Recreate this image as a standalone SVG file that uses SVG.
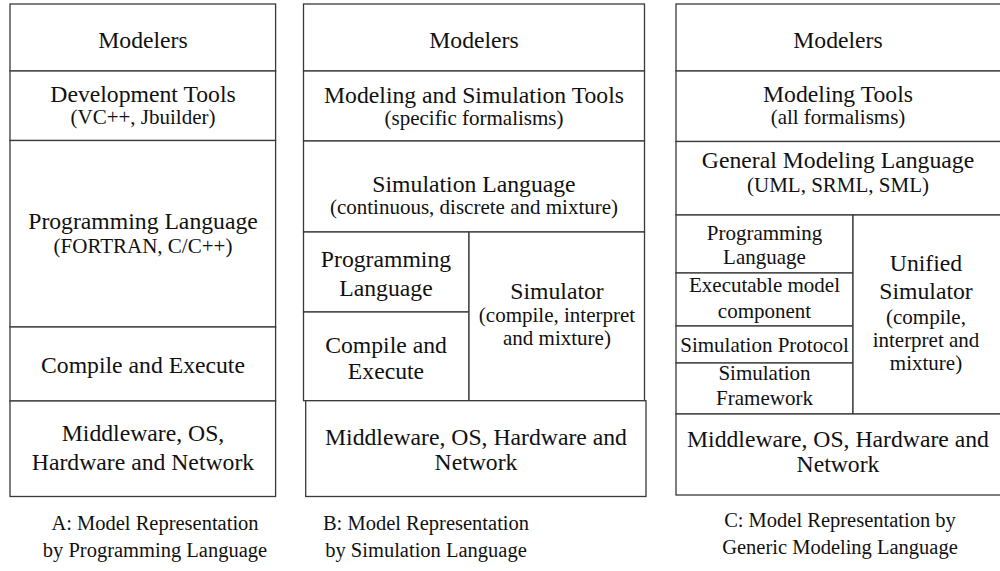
<svg xmlns="http://www.w3.org/2000/svg" width="1000" height="571" viewBox="0 0 1000 571">
  <style>
    rect.cell { fill: #ffffff; stroke: #3a3a3a; stroke-width: 1.3; }
    text { fill: #111111; text-anchor: middle; font-family: Liberation Serif, Times New Roman, Tinos, DejaVu Serif, serif; }
    .t { font-size: 23.7px; }
    .s { font-size: 21px; }
    .cap { font-size: 20.5px; }
  </style>
  <rect width="1000" height="571" fill="#ffffff"/>

  <!-- Stack A: programming language -->
  <g id="stackA">
    <g id="a-modelers"><rect class="cell" x="10" y="4" width="265.6" height="67"/><text class="t" x="143" y="48">Modelers</text></g>
    <g id="a-devtools"><rect class="cell" x="10" y="71" width="265.6" height="69.5"/><text class="t" x="143" y="101.5">Development Tools</text><text class="s" x="143" y="124">(VC++, Jbuilder)</text></g>
    <g id="a-proglang"><rect class="cell" x="10" y="140.5" width="265.6" height="186.5"/><text class="t" x="143" y="229">Programming Language</text><text class="s" x="143" y="253">(FORTRAN, C/C++)</text></g>
    <g id="a-compile"><rect class="cell" x="10" y="327" width="265.6" height="74"/><text class="t" x="143" y="372.5">Compile and Execute</text></g>
    <g id="a-platform"><rect class="cell" x="10" y="401" width="265.6" height="95.5"/><text class="t" x="143" y="441">Middleware, OS,</text><text class="t" x="143" y="470">Hardware and Network</text></g>
  </g>

  <!-- Stack B: simulation language -->
  <g id="stackB">
    <g id="b-modelers"><rect class="cell" x="303.5" y="4" width="341" height="67"/><text class="t" x="474" y="48">Modelers</text></g>
    <g id="b-tools"><rect class="cell" x="303.5" y="71" width="341" height="70"/><text class="t" x="474" y="102.5">Modeling and Simulation Tools</text><text class="s" x="474" y="125">(specific formalisms)</text></g>
    <g id="b-simlang"><rect class="cell" x="303.5" y="141" width="341" height="91"/><text class="t" x="474" y="192">Simulation Language</text><text class="s" x="474" y="214">(continuous, discrete and mixture)</text></g>
    <g id="b-proglang"><rect class="cell" x="303.5" y="232" width="165.5" height="80"/><text class="t" x="386" y="266.5">Programming</text><text class="t" x="386" y="296">Language</text></g>
    <g id="b-compile"><rect class="cell" x="303.5" y="312" width="165.5" height="88.7"/><text class="t" x="386" y="352.5">Compile and</text><text class="t" x="386" y="379">Execute</text></g>
    <g id="b-simulator"><rect class="cell" x="469" y="232" width="175.5" height="168.7"/><text class="t" x="557" y="299">Simulator</text><text class="s" x="557" y="322">(compile, interpret</text><text class="s" x="557" y="344.5">and mixture)</text></g>
    <g id="b-platform"><rect class="cell" x="305.7" y="400.7" width="340.3" height="95.8"/><text class="t" x="476" y="445">Middleware, OS, Hardware and</text><text class="t" x="476" y="470">Network</text></g>
  </g>

  <!-- Stack C: generic modeling language -->
  <g id="stackC">
    <g id="c-modelers"><rect class="cell" x="676" y="4" width="326" height="67"/><text class="t" x="838" y="48">Modelers</text></g>
    <g id="c-tools"><rect class="cell" x="676" y="71" width="326" height="70.5"/><text class="t" x="838" y="101.5">Modeling Tools</text><text class="s" x="838" y="123.5">(all formalisms)</text></g>
    <g id="c-genlang"><rect class="cell" x="676" y="141.5" width="326" height="73.5"/><text class="t" x="838" y="168">General Modeling Language</text><text class="s" x="838" y="191.5">(UML, SRML, SML)</text></g>
    <g id="c-proglang"><rect class="cell" x="676" y="215" width="177" height="58"/><text class="s" x="764.5" y="240">Programming</text><text class="s" x="764.5" y="263.5">Language</text></g>
    <g id="c-component"><rect class="cell" x="676" y="273" width="177" height="53"/><text class="s" x="764.5" y="291.5">Executable model</text><text class="s" x="764.5" y="318">component</text></g>
    <g id="c-protocol"><rect class="cell" x="676" y="326" width="177" height="37"/><text class="s" x="764.5" y="351.5">Simulation Protocol</text></g>
    <g id="c-framework"><rect class="cell" x="676" y="363" width="177" height="51"/><text class="s" x="764.5" y="380">Simulation</text><text class="s" x="764.5" y="405">Framework</text></g>
    <g id="c-simulator"><rect class="cell" x="853" y="215" width="149" height="199"/><text class="t" x="926" y="271">Unified</text><text class="t" x="926" y="299">Simulator</text><text class="s" x="926" y="324">(compile,</text><text class="s" x="926" y="347">interpret and</text><text class="s" x="926" y="370">mixture)</text></g>
    <g id="c-platform"><rect class="cell" x="676" y="414" width="326" height="81"/><text class="t" x="838" y="447">Middleware, OS, Hardware and</text><text class="t" x="838" y="472">Network</text></g>
  </g>

  <!-- no connectors in this layered view -->
  <g id="connectors"/>

  <!-- captions -->
  <g id="captions">
    <text class="cap" x="155" y="530">A: Model Representation</text>
    <text class="cap" x="155" y="557">by Programming Language</text>
    <text class="cap" x="426" y="530">B: Model Representation</text>
    <text class="cap" x="426" y="557">by Simulation Language</text>
    <text class="cap" x="840" y="527">C: Model Representation by</text>
    <text class="cap" x="840" y="554">Generic Modeling Language</text>
  </g>
</svg>
